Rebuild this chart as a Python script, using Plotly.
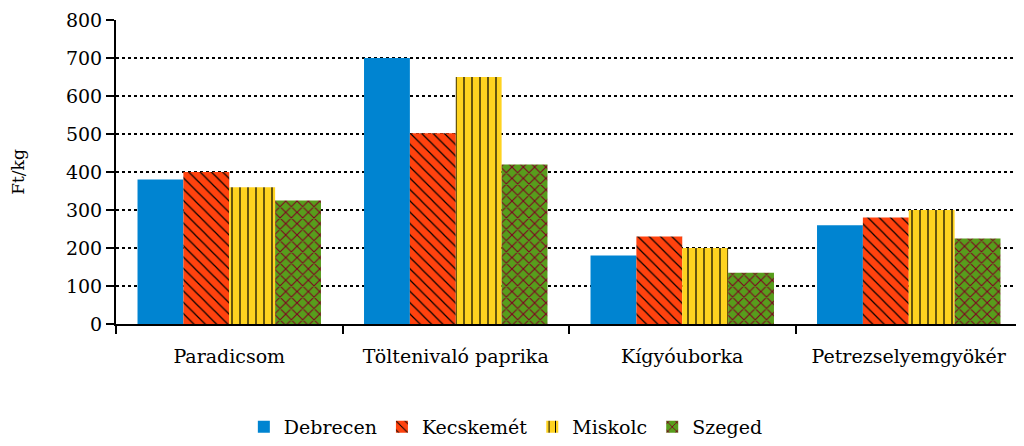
import plotly.graph_objects as go

categories = ["Paradicsom", "Töltenivaló paprika", "Kígyóuborka", "Petrezselyemgyökér"]
series_names = ["Debrecen", "Kecskemét", "Miskolc", "Szeged"]
debrecen = [380, 700, 180, 260]
kecskemet = [400, 502, 230, 280]
miskolc = [360, 650, 200, 300]
szeged = [325, 420, 135, 225]
y_ticks = [0, 100, 200, 300, 400, 500, 600, 700, 800]

values = [debrecen, kecskemet, miskolc, szeged]
colors = ["#0084d1", "#ff420e", "#ffd320", "#579d1c"]
shapes = ["", "\\", "|", "x"]
fgcols = ["#000000", "#000000", "#000000", "#7e0021"]

FONT = "DejaVu Serif, serif"

fig = go.Figure()
for name, vals, col, shp, fg in zip(series_names, values, colors, shapes, fgcols):
    marker = dict(color=col, line=dict(width=0))
    if shp:
        marker["pattern"] = dict(shape=shp, fgcolor=fg, bgcolor=col, size=8,
                                 solidity=0.15 if shp != "x" else 0.25, fillmode="replace")
    fig.add_trace(go.Bar(name=name, x=categories, y=vals, marker=marker))

fig.update_layout(
    width=1016, height=438,
    barmode="group", bargap=0.19, bargroupgap=0,
    plot_bgcolor="white", paper_bgcolor="white",
    margin=dict(l=108, r=2, t=12, b=122, autoexpand=False),
    font=dict(family=FONT, size=18, color="#000000"),
    showlegend=True,
    legend=dict(orientation="h", x=0.49, xanchor="center", xref="container",
                y=-0.015, yanchor="bottom", yref="container",
                font=dict(family=FONT, size=19),
                itemwidth=30, traceorder="normal"),
    xaxis=dict(showline=True, linecolor="black", linewidth=2, ticks="outside",
               tickson="boundaries", ticklen=8, tickwidth=2, tickcolor="black",
               showgrid=False, automargin=False, ticklabelstandoff=14,
               tickfont=dict(family=FONT, size=19)),
    yaxis=dict(range=[0, 800], tickvals=y_ticks, showline=True, linecolor="black",
               linewidth=2, ticks="outside", ticklen=8, tickwidth=2, tickcolor="black",
               showgrid=True, gridcolor="black", gridwidth=2, griddash="3px,3px",
               zeroline=False, automargin=False, tickfont=dict(family=FONT, size=19),
               title=dict(text="Ft/kg", font=dict(family=FONT, size=17), standoff=38)),
)

fig.write_html("out.html")
